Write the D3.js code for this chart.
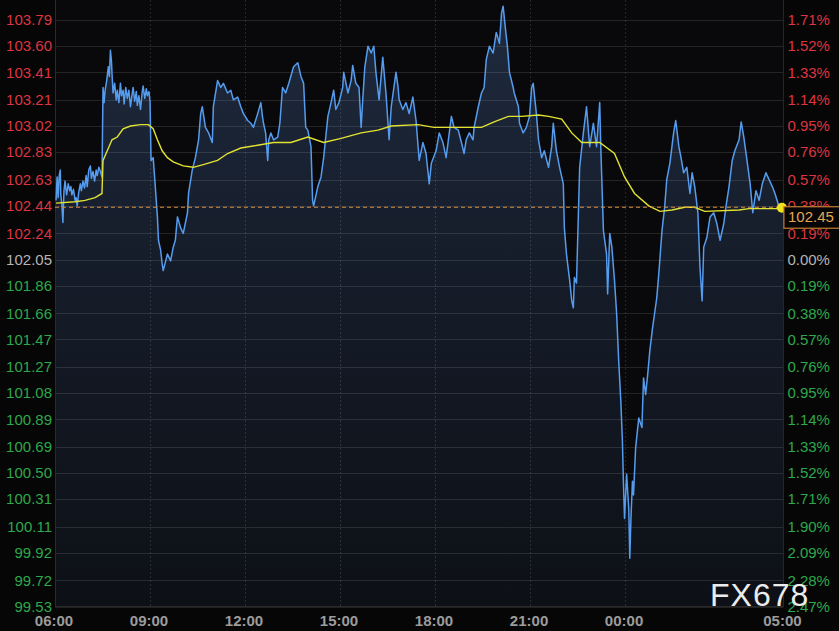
<!DOCTYPE html>
<html><head><meta charset="utf-8">
<script src="https://cdn.jsdelivr.net/npm/d3@7"></script>
<style>html,body{margin:0;padding:0;background:#060606;}svg{display:block}</style>
</head><body>
<svg id="chart" width="839" height="631"></svg>
<script>
// ---- data (minutes since 06:00, price) ----
const priceSeries = [
[2,102.48],[4,102.65],[6,102.50],[8,102.66],[10,102.70],[11,102.52],[13,102.45],[15,102.32],[17,102.55],[19,102.62],
[22,102.52],[25,102.60],[28,102.55],[30,102.58],[32,102.52],[35,102.56],[38,102.48],[40,102.50],[42,102.44],[45,102.54],
[48,102.60],[50,102.55],[53,102.62],[56,102.57],[59,102.66],[61,102.58],[64,102.70],[67,102.73],[69,102.64],[72,102.69],
[75,102.62],[78,102.70],[80,102.66],[83,102.72],[86,102.69],[89,102.65],
[91,103.30],[93,103.19],[95,103.28],[98,103.35],[101,103.45],[103,103.38],[105,103.57],[107,103.49],[108,103.40],[110,103.26],
[113,103.33],[116,103.21],[118,103.28],[121,103.19],[124,103.33],[126,103.24],[129,103.28],[131,103.18],[134,103.30],[137,103.22],
[140,103.28],[143,103.16],[146,103.25],[148,103.30],[151,103.20],[154,103.27],[156,103.17],[159,103.24],[162,103.14],[165,103.26],
[167,103.31],[170,103.22],[173,103.29],[175,103.24],[178,103.27],[180,103.20],
[182,102.77],[186,102.79],[190,102.58],[194,102.36],[196,102.19],
[200,102.12],[203,102.02],[205,101.97],[213,102.09],[219,102.04],[224,102.14],[228,102.19],[232,102.36],[238,102.28],[243,102.24],
[251,102.39],[253,102.53],[260,102.70],[266,102.79],[272,102.92],[276,103.11],[279,103.16],[285,103.01],[291,102.97],[298,102.90],
[300,103.16],[308,103.35],[314,103.30],[319,103.33],[327,103.26],[333,103.28],[338,103.21],[346,103.23],[352,103.16],[357,103.11],
[365,103.06],[371,103.04],[376,103.01],[384,103.11],[390,103.19],[393,103.09],[395,103.04],[399,102.97],[403,102.77],[405,102.92],
[409,102.97],[414,102.92],[422,102.94],[426,103.04],[431,103.30],[437,103.26],[443,103.33],[452,103.45],[460,103.48],[466,103.38],
[471,103.33],[475,103.01],[479,102.99],[485,102.87],[488,102.48],[490,102.44],[498,102.58],[504,102.65],[509,102.79],[517,103.09],
[523,103.19],[528,103.28],[532,103.14],[538,103.19],[545,103.30],[547,103.41],[555,103.26],[561,103.35],[564,103.46],[570,103.33],
[576,103.30],[580,103.01],[583,103.21],[587,103.45],[593,103.60],[599,103.55],[604,103.60],[608,103.41],[614,103.21],[621,103.52],
[627,103.26],[633,102.92],[637,103.16],[646,103.41],[650,103.30],[652,103.21],[659,103.14],[665,103.19],[671,103.11],[678,103.23],
[684,103.06],[690,102.77],[697,102.90],[703,102.82],[709,102.60],[713,102.75],[722,102.84],[728,102.97],[735,102.90],[741,102.79],
[747,102.97],[751,103.09],[756,103.01],[764,102.99],[770,102.90],[775,102.82],[779,102.92],[785,102.97],[792,102.92],[794,103.01],
[802,103.16],[808,103.26],[813,103.30],[817,103.50],[823,103.60],[830,103.55],[836,103.70],[842,103.62],[846,103.84],[849,103.89],
[853,103.74],[857,103.60],[861,103.41],[868,103.30],[870,103.26],[878,103.16],[880,103.04],[887,102.97],[893,103.01],[899,103.09],
[903,103.30],[906,103.33],[912,103.11],[916,102.92],[922,102.79],[927,102.84],[935,102.72],[941,102.87],[944,103.04],[950,102.84],
[956,102.72],[963,102.60],[965,102.28],[969,102.09],[975,101.90],[979,101.75],[982,101.70],[984,101.92],[988,101.88],[994,102.72],
[1001,102.97],[1007,103.16],[1013,102.87],[1020,103.04],[1026,102.87],[1032,103.19],[1034,102.87],[1039,102.26],[1045,102.09],[1047,101.80],
[1051,102.24],[1055,102.14],[1060,101.90],[1064,101.66],[1068,101.31],[1072,101.02],[1075,100.73],[1077,100.42],[1079,100.17],[1083,100.49],
[1087,100.24],[1089,99.88],[1091,100.15],[1094,100.44],[1096,100.34],[1100,100.68],[1106,100.90],[1112,100.83],[1115,101.19],[1119,101.07],
[1123,101.22],[1127,101.39],[1132,101.55],[1136,101.66],[1140,101.77],[1144,101.95],[1150,102.26],[1155,102.43],[1159,102.63],[1165,102.75],
[1172,102.97],[1176,103.06],[1182,102.87],[1186,102.79],[1191,102.68],[1197,102.72],[1203,102.53],[1207,102.68],[1212,102.58],[1218,102.39],
[1222,101.99],[1226,101.75],[1229,102.14],[1235,102.21],[1241,102.36],[1248,102.39],[1254,102.31],[1260,102.19],[1267,102.31],[1271,102.43],
[1277,102.58],[1283,102.77],[1288,102.84],[1296,102.92],[1300,103.05],[1305,102.94],[1311,102.77],[1317,102.60],[1322,102.39],[1328,102.55],
[1334,102.48],[1340,102.60],[1347,102.68],[1353,102.63],[1359,102.58],[1364,102.53],[1372,102.43],[1378,102.41],[1380,102.43]
];
const avgSeries = [
[2,102.46],[38,102.47],[57,102.48],[76,102.50],[89,102.53],[91,102.77],[99,102.84],[108,102.92],[118,102.94],[129,103.00],
[143,103.02],[162,103.03],[177,103.03],[186,103.00],[194,102.92],[203,102.84],[213,102.79],[224,102.76],[243,102.73],[262,102.72],
[281,102.74],[308,102.77],[327,102.82],[352,102.86],[384,102.88],[414,102.90],[447,102.90],[479,102.94],[509,102.90],[542,102.93],
[580,102.97],[612,102.99],[637,103.02],[688,103.03],[718,103.01],[770,103.01],[808,103.01],[832,103.05],[859,103.09],[884,103.09],
[916,103.10],[935,103.09],[960,103.07],[979,102.97],[998,102.90],[1032,102.90],[1060,102.82],[1079,102.65],[1098,102.53],[1125,102.44],
[1146,102.40],[1169,102.41],[1193,102.43],[1212,102.43],[1231,102.40],[1296,102.41],[1315,102.42],[1378,102.42]
];
const yTickValues = [103.79,103.60,103.41,103.21,103.02,102.83,102.63,102.44,102.24,102.05,101.86,101.66,101.47,101.27,101.08,100.89,100.69,100.50,100.31,100.11,99.92,99.72,99.53];
const pctTickLabels = ["1.71%","1.52%","1.33%","1.14%","0.95%","0.76%","0.57%","0.38%","0.19%","0.00%","0.19%","0.38%","0.57%","0.76%","0.95%","1.14%","1.33%","1.52%","1.71%","1.90%","2.09%","2.28%","2.47%"];
const xTickMinutes = [0,180,360,540,720,900,1080,1380];
const xTickLabels = ["06:00","09:00","12:00","15:00","18:00","21:00","00:00","05:00"];
const prevClose = 102.05;
const lastPriceLabel = "102.45";
const watermarkText = "FX678";

// ---- layout ----
const W = 839, H = 631;
const pL = 55, pR = 783.4, pT = 0, pB = 606.5;
const FONT = "'Liberation Sans', Arial, sans-serif";
const RED = "#dc3540", GREEN = "#2ea84c", GRAY = "#b4b4b4";

const x = d3.scaleLinear().domain([0, 1380]).range([pL, pR]);
const y = d3.scaleLinear().domain([99.53, 103.79]).range([pB, 20]);

const svg = d3.select("#chart");
svg.append("rect").attr("width", W).attr("height", H).attr("fill", "#060606");
svg.append("rect").attr("x", pL).attr("y", pT).attr("width", pR - pL).attr("height", pB - pT).attr("fill", "#09090b");

const defs = svg.append("defs");
const grad = defs.append("linearGradient").attr("id", "fillGrad")
  .attr("gradientUnits", "userSpaceOnUse").attr("x1", 0).attr("y1", 0).attr("x2", 0).attr("y2", pB);
grad.append("stop").attr("offset", 0).attr("stop-color", "#1f2b3f");
grad.append("stop").attr("offset", 0.45).attr("stop-color", "#151c29");
grad.append("stop").attr("offset", 1).attr("stop-color", "#0d1016");

// area under price
const area = d3.area().x(d => x(d[0])).y0(pB).y1(d => y(d[1]));
svg.append("path").datum(priceSeries).attr("d", area).attr("fill", "url(#fillGrad)");

// grid
const grid = svg.append("g");
grid.selectAll("line.h").data(yTickValues).join("line")
  .attr("x1", pL).attr("x2", pR).attr("y1", d => Math.round(y(d)) + 0.5).attr("y2", d => Math.round(y(d)) + 0.5)
  .attr("stroke", "rgba(255,255,255,0.11)").attr("stroke-width", 1);
grid.selectAll("line.v").data(xTickMinutes.slice(1, -1)).join("line")
  .attr("x1", d => Math.round(x(d)) + 0.5).attr("x2", d => Math.round(x(d)) + 0.5).attr("y1", pT).attr("y2", pB)
  .attr("stroke", "rgba(255,255,255,0.12)").attr("stroke-dasharray", "2,2");
grid.append("line").attr("x1", pL + 0.5).attr("x2", pL + 0.5).attr("y1", pT).attr("y2", pB).attr("stroke", "#2a2a2a");
grid.append("line").attr("x1", pR).attr("x2", pR).attr("y1", pT).attr("y2", pB).attr("stroke", "#2a2a2a");
grid.append("line").attr("x1", pL).attr("x2", pR).attr("y1", pB).attr("y2", pB).attr("stroke", "#2a2a2a");

// price line
const line = d3.line().x(d => x(d[0])).y(d => y(d[1]));
svg.append("path").datum(priceSeries).attr("d", line).attr("fill", "none")
  .attr("stroke", "#559cee").attr("stroke-width", 1.5).attr("stroke-linejoin", "round");

// average line
svg.append("path").datum(avgSeries).attr("d", line).attr("fill", "none")
  .attr("stroke", "#e2e232").attr("stroke-width", 1.4);

// last price dashed line
const last = priceSeries[priceSeries.length - 1];
svg.append("line").attr("x1", pL).attr("x2", pR).attr("y1", y(last[1])).attr("y2", y(last[1]))
  .attr("stroke", "#d98f3e").attr("stroke-width", 1).attr("stroke-dasharray", "4,3");

// axes
const colorFor = v => Math.abs(v - prevClose) < 0.005 ? GRAY : (v > prevClose ? RED : GREEN);

const gl = svg.append("g").attr("transform", `translate(${pL},0)`)
  .call(d3.axisLeft(y).tickValues(yTickValues).tickFormat(d => d.toFixed(2)).tickSize(0).tickPadding(3));
gl.select(".domain").remove();
gl.selectAll("text").attr("font-family", FONT).attr("font-size", 15).attr("fill", d => colorFor(d));

const gr = svg.append("g").attr("transform", `translate(${pR},0)`)
  .call(d3.axisRight(y).tickValues(yTickValues).tickFormat((d, i) => pctTickLabels[i]).tickSize(0).tickPadding(4));
gr.select(".domain").remove();
gr.selectAll("text").attr("font-family", FONT).attr("font-size", 15).attr("fill", d => colorFor(d));

const gb = svg.append("g").attr("transform", `translate(-1.5,${pB})`)
  .call(d3.axisBottom(x).tickValues(xTickMinutes).tickFormat((d, i) => xTickLabels[i]).tickSize(0).tickPadding(9));
gb.select(".domain").remove();
gb.selectAll("text").attr("font-family", FONT).attr("font-size", 15).attr("font-weight", "bold").attr("fill", "#9c9c9c");

// last price marker & label
svg.append("circle").attr("cx", x(last[0]) - 1.5).attr("cy", y(last[1]) + 0.5).attr("r", 5).attr("fill", "#f2e21e");
const ly = y(last[1]) - 0.5;
svg.append("rect").attr("x", pR + 0.5).attr("y", ly).attr("width", 60).attr("height", 21.5)
  .attr("fill", "#050505").attr("stroke", "#c47f35").attr("stroke-width", 1.2);
svg.append("text").attr("x", 788).attr("y", ly + 15.5).attr("font-family", FONT).attr("font-size", 15)
  .attr("fill", "#e3a454").text(lastPriceLabel);

// watermark
svg.append("text").attr("x", 710).attr("y", 606).attr("font-family", FONT).attr("font-size", 32)
  .attr("letter-spacing", 1).attr("fill", "#ececec").text(watermarkText);
</script>
</body></html>
